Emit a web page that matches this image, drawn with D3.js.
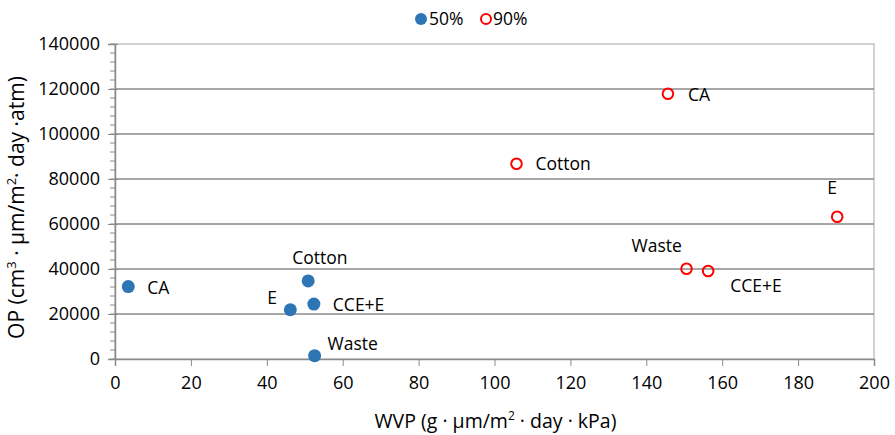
<!DOCTYPE html>
<html>
<head>
<meta charset="UTF-8">
<script src="https://d3js.org/d3.v7.min.js"></script>
<style>
  body { margin: 0; background: #fff; }
  text { font-family: "Open Sans", sans-serif; fill: #000; }
</style>
</head>
<body>
<div id="chart"></div>
<script>
// data
var materials = ["CA", "Cotton", "E", "CCE+E", "Waste"];
var wvp50 = [3.5, 50.9, 46.2, 52.4, 52.6];
var op50 = [32200, 34700, 21900, 24400, 1500];
var wvp90 = [145.7, 105.8, 190.3, 156.3, 150.6];
var op90 = [117900, 86800, 63200, 39100, 40100];
var seriesNames = ["50%", "90%"];
var xTicks = [0, 20, 40, 60, 80, 100, 120, 140, 160, 180, 200];
var yTicks = [0, 20000, 40000, 60000, 80000, 100000, 120000, 140000];

// label placement, pixels from the point (dx to text start, dy to text middle)
var labelShift = {
  "50%": {"CA": [19, 1], "Cotton": [-16, -23], "E": [-23, -12], "CCE+E": [19, 1], "Waste": [13, -12]},
  "90%": {"CA": [20, 1], "Cotton": [19, 0], "E": [-10, -29], "CCE+E": [22, 15], "Waste": [-55, -23]}
};

var width = 895, height = 435;
var margin = {top: 44, right: 21, bottom: 76, left: 115};
var w = width - margin.left - margin.right;
var h = height - margin.top - margin.bottom;

var svg = d3.select("#chart").append("svg")
  .attr("width", width)
  .attr("height", height);

var x = d3.scaleLinear().domain([0, 200]).range([0, w]);
var y = d3.scaleLinear().domain([0, 140000]).range([h, 0]);

var g = svg.append("g").attr("transform", "translate(" + margin.left + "," + margin.top + ")");

// plot border
g.append("rect")
  .attr("x", 0).attr("y", 0).attr("width", w).attr("height", h)
  .attr("fill", "none").attr("stroke", "#c4c4c4").attr("stroke-width", 1.5);

// grid lines
g.selectAll(".grid")
  .data(yTicks.slice(1, -1))
  .enter().append("line")
  .attr("x1", 0).attr("x2", w)
  .attr("y1", function(d) { return y(d); })
  .attr("y2", function(d) { return y(d); })
  .attr("stroke", "#8a8a8a").attr("stroke-width", 1.5);

// minor y ticks
var minor = d3.range(0, 140001, 4000);
g.selectAll(".minor")
  .data(minor)
  .enter().append("line")
  .attr("x1", -5).attr("x2", 0)
  .attr("y1", function(d) { return y(d); })
  .attr("y2", function(d) { return y(d); })
  .attr("stroke", "#8a8a8a").attr("stroke-width", 1);

var yAxis = g.append("g")
  .call(d3.axisLeft(y).tickValues(yTicks).tickSize(7).tickPadding(8).tickFormat(d3.format("d")));
yAxis.select(".domain").attr("stroke", "#8a8a8a").attr("stroke-width", 1.5);
yAxis.selectAll(".tick line").attr("stroke", "#8a8a8a").attr("x2", -7).attr("x1", 3);
yAxis.selectAll(".tick text").attr("font-size", "18px").attr("font-family", "Open Sans, sans-serif").attr("fill", "#000");

var xAxis = g.append("g")
  .attr("transform", "translate(0," + h + ")")
  .call(d3.axisBottom(x).tickValues(xTicks).tickSize(7).tickPadding(10));
xAxis.select(".domain").attr("stroke", "#8a8a8a").attr("stroke-width", 1.5);
xAxis.selectAll(".tick line").attr("stroke", "#8a8a8a");
xAxis.selectAll(".tick text").attr("font-size", "18px").attr("font-family", "Open Sans, sans-serif").attr("fill", "#000");

// axis titles
var xt = svg.append("text")
  .attr("x", margin.left + w / 2 + 1)
  .attr("y", 428)
  .attr("text-anchor", "middle")
  .attr("font-size", "19.5px");
xt.append("tspan").text("WVP (g · µm/m");
xt.append("tspan").attr("font-size", "12px").attr("dy", -8).text("2");
xt.append("tspan").attr("dy", 8).text(" · day · kPa)");

var yt = svg.append("text")
  .attr("transform", "translate(24," + (margin.top + h / 2 + 6) + ") rotate(-90)")
  .attr("text-anchor", "middle")
  .attr("font-size", "21px");
yt.append("tspan").text("OP (cm");
yt.append("tspan").attr("font-size", "13px").attr("dy", -8).text("3");
yt.append("tspan").attr("dy", 8).text(" · µm/m");
yt.append("tspan").attr("font-size", "13px").attr("dy", -8).text("2");
yt.append("tspan").attr("dy", 8).text("· day ·atm)");

// points
function rows(xs, ys, s) {
  return materials.map(function(m, i) { return {name: m, x: xs[i], y: ys[i], s: s}; });
}
var d50 = rows(wvp50, op50, seriesNames[0]);
var d90 = rows(wvp90, op90, seriesNames[1]);

g.selectAll(".p50").data(d50).enter().append("circle")
  .attr("cx", function(d) { return x(d.x); })
  .attr("cy", function(d) { return y(d.y); })
  .attr("r", 6.5)
  .attr("fill", "#2e75b6");

g.selectAll(".p90").data(d90).enter().append("circle")
  .attr("cx", function(d) { return x(d.x); })
  .attr("cy", function(d) { return y(d.y); })
  .attr("r", 5.3)
  .attr("fill", "none")
  .attr("stroke", "#ff0000")
  .attr("stroke-width", 2);

// labels
g.selectAll(".lbl").data(d50.concat(d90)).enter().append("text")
  .attr("x", function(d) { return x(d.x) + labelShift[d.s][d.name][0]; })
  .attr("y", function(d) { return y(d.y) + labelShift[d.s][d.name][1]; })
  .attr("dy", "0.35em")
  .attr("font-size", "17.5px")
  .text(function(d) { return d.name; });

// legend
var leg = svg.append("g");
leg.append("circle").attr("cx", 421).attr("cy", 19).attr("r", 6).attr("fill", "#2e75b6");
leg.append("text").attr("x", 429).attr("y", 19).attr("dy", "0.35em").attr("font-size", "17.5px").text(seriesNames[0]);
leg.append("circle").attr("cx", 486).attr("cy", 19).attr("r", 5).attr("fill", "none").attr("stroke", "#ff0000").attr("stroke-width", 2);
leg.append("text").attr("x", 493).attr("y", 19).attr("dy", "0.35em").attr("font-size", "17.5px").text(seriesNames[1]);
</script>
</body>
</html>
